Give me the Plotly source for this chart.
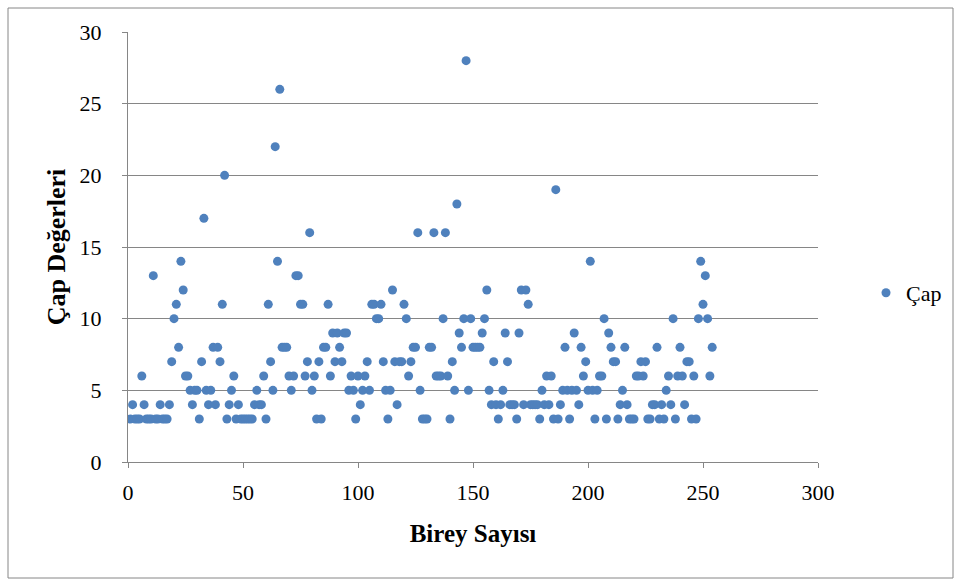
import plotly.graph_objects as go

# Çap değerleri, birey sırasına göre (1..N)
cap = [
    3, 4, 3, 3, 3, 6, 4, 3, 3, 3,
    13, 3, 3, 4, 3, 3, 3, 4, 7, 10,
    11, 8, 14, 12, 6, 6, 5, 4, 5, 5,
    3, 7, 17, 5, 4, 5, 8, 4, 8, 7,
    11, 20, 3, 4, 5, 6, 3, 4, 3, 3,
    3, 3, 3, 3, 4, 5, 4, 4, 6, 3,
    11, 7, 5, 22, 14, 26, 8, 8, 8, 6,
    5, 6, 13, 13, 11, 11, 6, 7, 16, 5,
    6, 3, 7, 3, 8, 8, 11, 6, 9, 7,
    9, 8, 7, 9, 9, 5, 6, 5, 3, 6,
    4, 5, 6, 7, 5, 11, 11, 10, 10, 11,
    7, 5, 3, 5, 12, 7, 4, 7, 7, 11,
    10, 6, 7, 8, 8, 16, 5, 3, 3, 3,
    8, 8, 16, 6, 6, 6, 10, 16, 6, 3,
    7, 5, 18, 9, 8, 10, 28, 5, 10, 8,
    8, 8, 8, 9, 10, 12, 5, 4, 7, 4,
    3, 4, 5, 9, 7, 4, 4, 4, 3, 9,
    12, 4, 12, 11, 4, 4, 4, 4, 3, 5,
    4, 6, 4, 6, 3, 19, 3, 4, 5, 8,
    5, 3, 5, 9, 5, 4, 8, 6, 7, 5,
    14, 5, 3, 5, 6, 6, 10, 3, 9, 8,
    7, 7, 3, 4, 5, 8, 4, 3, 3, 3,
    6, 6, 7, 6, 7, 3, 3, 4, 4, 8,
    3, 4, 3, 5, 6, 4, 10, 3, 6, 8,
    6, 4, 7, 7, 3, 6, 3, 10, 14, 11,
    13, 10, 6, 8,
]
birey = list(range(1, len(cap) + 1))

x_ticks = [0, 50, 100, 150, 200, 250, 300]
y_ticks = [0, 5, 10, 15, 20, 25, 30]

SERIF = "Liberation Serif, Times New Roman, serif"
GRID = "#868686"
BLUE = "#4F81BD"

W, H = 961, 583
ML, MR, MT, MB = 128, 143, 32, 121
PW, PH = W - ML - MR, H - MT - MB


def px(x):
    return (x - ML) / PW


def py(y):
    return (H - MB - y) / PH


fig = go.Figure()
fig.add_trace(go.Scatter(
    x=birey, y=cap, mode="markers", name="Çap",
    marker=dict(color=BLUE, size=9, line=dict(width=0)),
))

fig.update_layout(
    width=W, height=H,
    margin=dict(l=ML, r=MR, t=MT, b=MB, pad=0),
    paper_bgcolor="white", plot_bgcolor="white",
    font=dict(family=SERIF, size=22, color="black"),
    showlegend=True,
    legend=dict(
        x=px(866), y=py(293), xanchor="left", yanchor="middle",
        bgcolor="rgba(0,0,0,0)", font=dict(family=SERIF, size=22),
        itemwidth=30,
    ),
    xaxis=dict(
        range=[0, 300], tickvals=x_ticks, ticktext=[str(v) for v in x_ticks],
        showgrid=False, zeroline=False,
        showline=True, linecolor=GRID, linewidth=1,
        ticks="outside", ticklen=5, tickcolor=GRID,
        ticklabelstandoff=6,
        tickfont=dict(family=SERIF, size=22),
        title=dict(text="<b>Birey Sayısı</b>", font=dict(family=SERIF, size=25), standoff=20),
    ),
    yaxis=dict(
        range=[0, 30], tickvals=y_ticks, ticktext=[str(v) for v in y_ticks],
        showgrid=True, gridcolor=GRID, gridwidth=1, zeroline=False,
        showline=True, linecolor=GRID, linewidth=1,
        ticks="outside", ticklen=5, tickcolor=GRID,
        ticklabelstandoff=16,
        tickfont=dict(family=SERIF, size=22),
        title=dict(text="<b>Çap Değerleri</b>", font=dict(family=SERIF, size=26), standoff=6),
    ),
    shapes=[
        dict(type="rect", xref="paper", yref="paper",
             x0=px(8), x1=px(953), y0=py(578), y1=py(8),
             line=dict(color=GRID, width=1), fillcolor="rgba(0,0,0,0)", layer="below"),
    ],
)

fig.write_html("out.html")
